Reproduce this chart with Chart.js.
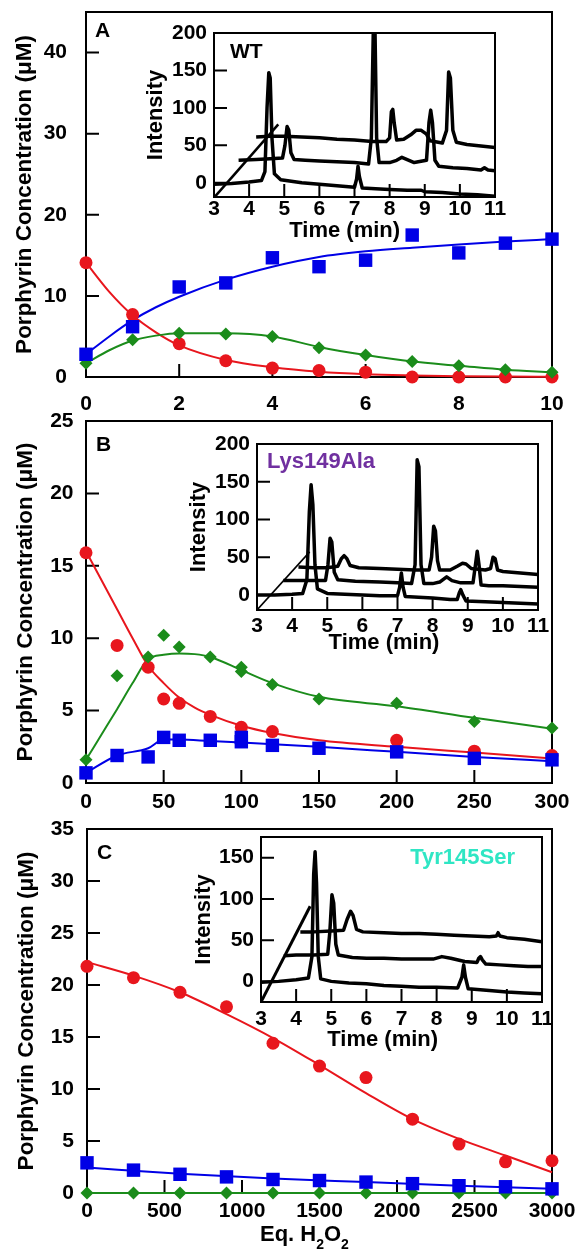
<!DOCTYPE html>
<html><head><meta charset="utf-8">
<script src="https://cdn.jsdelivr.net/npm/chart.js@4"></script>
<style>
html,body{margin:0;padding:0;background:#fff;}
body{width:579px;height:1254px;position:relative;overflow:hidden;}
canvas{position:absolute;}
</style></head><body>
<script>
// ================= DATA =================
// Panel A (WT) : x = Eq. H2O2
const aEq      = [0,1,2,3,4,5,6,7,8,9,10];
const aBlue    = [2.8,6.2,11.1,11.6,14.7,13.6,14.4,17.5,15.3,16.5,17.0];
const aRed     = [14.1,7.7,4.1,2.0,1.1,0.8,0.6,0,0,0,0];
const aGreen   = [1.7,4.6,5.4,5.3,5.0,3.6,2.7,1.9,1.4,0.9,0.6];
const aFitEq   = [0,0.5,1,1.5,2,3,4,5,6,7,8,9,10];
const aBlueFit = [2.8,5.0,7.0,8.6,9.9,12.0,13.6,14.8,15.5,15.95,16.35,16.7,17.0];
const aRedFit  = [14.1,10.5,7.6,5.5,3.9,2.1,1.2,0.65,0.35,0.2,0.1,0.05,0.03];
const aGreenFit= [1.7,3.3,4.5,5.1,5.4,5.4,5.0,3.7,2.7,1.9,1.4,0.9,0.6];
const aXTicks  = [0,2,4,6,8,10];
const aYTicks  = [0,10,20,30,40];

// Panel B (Lys149Ala)
const bRedEq   = [0,20,40,50,60,80,100,120,200,250,300];
const bRed     = [15.9,9.5,8.0,5.8,5.5,4.6,3.85,3.55,2.95,2.2,1.9];
const bGrnEq   = [0,20,40,50,60,80,100,100,120,150,200,250,300];
const bGreen   = [1.6,7.4,8.7,10.2,9.4,8.7,8.0,7.7,6.8,5.8,5.5,4.25,3.8];
const bBluEq   = [0,20,40,50,60,80,100,100,120,150,200,250,300];
const bBlue    = [0.7,1.9,1.8,3.15,2.95,2.95,3.15,2.85,2.6,2.4,2.15,1.7,1.6];
const bFitEq   = [0,10,20,30,40,50,60,70,80,100,120,150,200,250,300];
const bRedFit  = [16.0,14.0,12.0,10.0,8.1,6.9,5.9,5.2,4.7,3.95,3.45,2.95,2.5,2.1,1.7];
const bGreenFit= [1.6,3.35,5.1,6.9,8.55,8.85,8.95,8.9,8.7,7.8,6.9,5.95,5.3,4.5,3.75];
const bBlueFitEq = [0,20,40,50,60,80,100,150,200,250,300];
const bBlueFit = [0.7,1.9,2.4,3.0,3.0,2.9,2.8,2.5,2.15,1.8,1.5];
const bXTicks  = [0,50,100,150,200,250,300];
const bYTicks  = [0,5,10,15,20,25];

// Panel C (Tyr145Ser)
const cEq      = [0,300,600,900,1200,1500,1800,2100,2400,2700,3000];
const cRed     = [21.8,20.7,19.3,17.9,14.4,12.2,11.1,7.1,4.7,3.0,3.1];
const cBlue    = [2.9,2.2,1.8,1.55,1.3,1.2,1.05,0.9,0.7,0.6,0.4];
const cGreen   = [0,0,0,0,0,0,0,0,0,0,0];
const cRedFit  = [22.2,20.9,19.3,17.2,14.9,12.3,9.6,7.1,5.2,3.6,2.0];
const cBlueFitEq = [0,600,1200,1800,2400,3000];
const cBlueFit = [2.45,1.85,1.4,1.05,0.7,0.42];
const cGreenFitEq = [0,3000];
const cGreenFit = [0,0];
const cXTicks  = [0,500,1000,1500,2000,2500,3000];
const cYTicks  = [0,5,10,15,20,25,30,35];

// Insets: HPLC traces, [time (min), intensity]
const insetTimeTicks = [3,4,5,6,7,8,9,10,11];
const insetABIntTicks = [0,50,100,150,200];
const insetCIntTicks = [0,50,100,150];

const wtTrace1 = [[3.0,-2],[3.5,-1],[4.0,1],[4.35,3],[4.45,15],[4.51,100],[4.56,147],[4.60,140],[4.65,60],[4.72,12],[4.9,4],[5.5,0],[6.0,-2],[6.5,-4],[7.0,-6],[7.06,5],[7.10,22],[7.14,8],[7.22,-7],[7.6,-8],[8.0,-9],[8.5,-10],[8.9,-10],[9.0,-12],[9.5,-13],[10.0,-15],[10.5,-16],[11.0,-18]];
const wtTrace2 = [[3.7,30],[4.2,31],[4.6,32],[4.95,33],[5.02,50],[5.08,75],[5.13,70],[5.19,40],[5.28,31],[5.6,30],[6.0,29],[6.5,28],[7.0,27],[7.4,25],[7.48,60],[7.54,215],[7.58,215],[7.63,60],[7.7,27],[8.0,27],[8.2,30],[8.35,34],[8.5,31],[8.7,27],[9.05,30],[9.12,80],[9.17,97],[9.22,80],[9.29,30],[9.4,22],[9.8,20],[10.2,19],[10.6,17],[10.7,20],[10.8,17],[11.0,16]];
const wtTrace3 = [[4.2,61],[4.6,62],[5.0,62],[5.5,61],[6.0,60],[6.5,58],[7.0,57],[7.5,55],[7.9,55],[8.0,60],[8.05,95],[8.09,98],[8.13,80],[8.2,57],[8.4,58],[8.6,64],[8.75,70],[8.9,70],[9.05,65],[9.15,56],[9.5,53],[9.62,70],[9.68,148],[9.73,140],[9.8,70],[9.9,54],[10.2,51],[10.6,49],[11.0,47]];
const wtDiag   = [[3.0,-20],[4.83,78]];

const lysTrace1 = [[3.0,0],[3.5,0],[4.0,1],[4.3,2],[4.42,20],[4.49,110],[4.54,146],[4.59,120],[4.65,40],[4.72,8],[5.0,2],[5.5,1],[6.0,0],[6.5,-1],[7.0,-1],[7.06,10],[7.11,29],[7.16,10],[7.22,-2],[7.6,-3],[8.0,-4],[8.5,-6],[8.7,-6],[8.76,3],[8.8,7],[8.86,0],[8.95,-8],[9.5,-9],[10.0,-10],[10.5,-11],[11.0,-12]];
const lysTrace2 = [[3.75,19],[4.2,19],[4.6,19],[4.95,19],[5.02,40],[5.08,75],[5.13,70],[5.2,30],[5.3,20],[5.8,18],[6.5,17],[7.0,16],[7.4,15],[7.5,40],[7.56,179],[7.61,170],[7.67,40],[7.75,15],[8.0,15],[8.2,17],[8.4,24],[8.55,19],[8.8,16],[9.15,16],[9.22,40],[9.27,58],[9.32,40],[9.38,13],[9.6,12],[10.0,12],[10.5,11],[11.0,10]];
const lysTrace3 = [[4.18,37],[4.6,36],[5.0,36],[5.3,38],[5.4,48],[5.48,52],[5.56,48],[5.65,39],[5.9,36],[6.5,35],[7.0,34],[7.5,33],[7.9,33],[7.97,50],[8.03,91],[8.08,85],[8.14,45],[8.2,33],[8.5,33],[8.7,38],[8.85,42],[8.95,41],[9.1,35],[9.5,33],[9.65,35],[9.72,50],[9.78,48],[9.85,33],[10.0,31],[10.5,29],[11.0,27]];
const lysDiag   = [[3.0,-20],[4.5,57]];

const tyrTrace1 = [[3.0,-1],[3.5,0],[4.0,2],[4.35,4],[4.45,30],[4.5,130],[4.54,157],[4.58,120],[4.63,30],[4.7,3],[5.0,0],[5.5,-2],[6.0,-3],[6.5,-5],[7.0,-6],[7.5,-7],[8.0,-7],[8.6,-8],[8.72,5],[8.77,20],[8.82,5],[8.9,-9],[9.5,-11],[10.0,-13],[10.5,-14],[11.0,-15]];
const tyrTrace2 = [[3.65,31],[4.0,32],[4.5,32],[4.9,33],[4.96,60],[5.02,105],[5.07,95],[5.13,45],[5.2,32],[5.6,29],[6.0,28],[6.5,28],[7.0,27],[7.5,27],[7.9,27],[8.15,30],[8.4,28],[8.8,24],[9.15,23],[9.2,28],[9.25,30],[9.3,26],[9.4,21],[9.8,20],[10.2,19],[10.6,18],[11.0,18]];
const tyrTrace3 = [[4.12,60],[4.5,60],[5.0,61],[5.35,62],[5.45,75],[5.55,85],[5.62,80],[5.72,63],[5.9,60],[6.5,59],[7.0,58],[7.5,58],[8.0,57],[8.5,56],[9.0,55],[9.5,54],[9.7,55],[9.75,59],[9.8,55],[10.0,53],[10.5,51],[11.0,48]];
const tyrDiag   = [[3.0,-25],[4.4,91]];

// ================= STYLE / HELPERS =================
const FONT = '"Liberation Sans", Arial, Helvetica, sans-serif';
const BLUE = '#0000e6', RED = '#e8161d', GREEN = '#1b8c1b';

function makeCanvas(l, t, w, h) {
  const c = document.createElement('canvas');
  c.width = w; c.height = h;
  c.style.left = l + 'px'; c.style.top = t + 'px';
  c.style.width = w + 'px'; c.style.height = h + 'px';
  document.body.appendChild(c);
  return c;
}
const pts = (xs, ys) => xs.map((x, i) => ({x: x, y: ys[i]}));
const pairs = arr => arr.map(p => ({x: p[0], y: p[1]}));

function framePlugin(lineWidth, tick) {
  return {
    id: 'frame',
    beforeDatasetsDraw(chart) {
      const ctx = chart.ctx, a = chart.chartArea;
      const sx = chart.scales.x, sy = chart.scales.y;
      ctx.save();
      ctx.strokeStyle = '#000';
      ctx.lineWidth = lineWidth;
      ctx.beginPath();
      for (const t of sx.ticks) {
        const p = sx.getPixelForValue(t.value);
        if (p > a.left + 2 && p < a.right - 2) { ctx.moveTo(p, a.bottom); ctx.lineTo(p, a.bottom - tick); }
      }
      for (const t of sy.ticks) {
        const p = sy.getPixelForValue(t.value);
        if (p > a.top + 2 && p < a.bottom - 2) { ctx.moveTo(a.left, p); ctx.lineTo(a.left + tick, p); }
      }
      ctx.stroke();
      ctx.strokeRect(a.left, a.top, a.right - a.left, a.bottom - a.top);
      ctx.restore();
    }
  };
}
function textPlugin(items) {
  return {
    id: 'texts',
    afterDraw(chart) {
      const ctx = chart.ctx, a = chart.chartArea;
      for (const it of items) {
        ctx.save();
        ctx.fillStyle = it.color || '#000';
        ctx.textAlign = it.align || 'left';
        ctx.textBaseline = it.baseline || 'middle';
        const x = (it.fromRight ? a.right : a.left) + it.dx;
        const y = (it.fromBottom ? a.bottom : a.top) + it.dy;
        if (it.parts) {
          let cx = x;
          for (const p of it.parts) {
            ctx.font = 'bold ' + p.size + 'px ' + FONT;
            ctx.fillText(p.text, cx, y + (p.shift || 0));
            cx += ctx.measureText(p.text).width;
          }
        } else {
          ctx.font = 'bold ' + it.size + 'px ' + FONT;
          ctx.fillText(it.text, x, y);
        }
        ctx.restore();
      }
    }
  };
}
function zeroPad(s) { s.paddingTop = 0; s.paddingBottom = 0; s.paddingLeft = 0; s.paddingRight = 0; }

function axis(o) {
  const sc = {
    type: 'linear', min: o.min, max: o.max,
    grid: {display: false, drawTicks: false},
    border: {display: false},
    afterBuildTicks: s => { s.ticks = o.ticks.map(v => ({value: v})); },
    afterFit: s => { if (o.width !== undefined) s.width = o.width; if (o.height !== undefined) s.height = o.height; zeroPad(s); },
    ticks: {
      autoSkip: false, maxRotation: 0, minRotation: 0, padding: o.pad,
      color: '#000', font: {family: FONT, size: 21, weight: 'bold'},
      callback: v => String(v)
    }
  };
  if (o.title) {
    sc.title = {display: true, text: o.title, color: '#000',
      font: {family: FONT, size: o.titleSize, weight: 'bold'},
      padding: {top: o.titlePad, bottom: 0}};
  }
  return sc;
}

function ptsSet(data, style, color, r) {
  return {data: data, showLine: false, pointStyle: style, pointRadius: r, pointHoverRadius: r,
    backgroundColor: color, borderColor: color, pointBorderWidth: 0, borderWidth: 0, clip: false};
}
function lineSet(data, color, w, smooth, clip) {
  return {data: data, showLine: true, pointRadius: 0, borderColor: color, backgroundColor: color,
    borderWidth: w, fill: false, cubicInterpolationMode: smooth ? 'monotone' : 'default', tension: 0,
    borderJoinStyle: 'round', clip: clip};
}

function mainChart(cfg) {
  const c = makeCanvas(0, cfg.top, 579, cfg.height);
  return new Chart(c, {
    type: 'scatter',
    data: {datasets: cfg.datasets},
    options: {
      responsive: false, animation: false, events: [],
      layout: {padding: {left: 0, top: cfg.padTop, right: 27, bottom: 0}},
      plugins: {legend: {display: false}, tooltip: {enabled: false}},
      scales: {
        x: axis({min: cfg.xMin, max: cfg.xMax, ticks: cfg.xTicks, height: cfg.xHeight, pad: cfg.xPad}),
        y: axis({min: cfg.yMin, max: cfg.yMax, ticks: cfg.yTicks, width: cfg.yWidth, pad: cfg.yPad,
          title: 'Porphyrin Concentration (\u03bcM)', titleSize: 22.5, titlePad: cfg.titlePad})
      }
    },
    plugins: [framePlugin(2, 13), textPlugin(cfg.texts)]
  });
}

function insetChart(cfg) {
  const c = makeCanvas(cfg.left, cfg.top, 383, cfg.height);
  const ds = cfg.traces.map(t => lineSet(pairs(t), '#000', 3.5, false, 0));
  ds.push(lineSet(pairs(cfg.diag), '#000', cfg.diagW, false, 0));
  return new Chart(c, {
    type: 'scatter',
    data: {datasets: ds},
    options: {
      responsive: false, animation: false, events: [],
      layout: {padding: {left: 0, top: 25, right: 22, bottom: 0}},
      plugins: {legend: {display: false}, tooltip: {enabled: false}},
      scales: {
        x: axis({min: 3, max: 11, ticks: insetTimeTicks, height: 60, pad: cfg.xPad}),
        y: axis({min: cfg.yMin, max: cfg.yMax, ticks: cfg.yTicks, width: 80, pad: 7,
          title: 'Intensity', titleSize: 22, titlePad: cfg.titlePad})
      }
    },
    plugins: [framePlugin(2, 13), textPlugin(cfg.texts)]
  });
}

// ================= MAIN PANELS =================
mainChart({
  top: 0, height: 430, padTop: 12, xHeight: 53, yWidth: 86, xPad: 15, yPad: 19, titlePad: 11.5,
  xMin: 0, xMax: 10, yMin: 0, yMax: 45, xTicks: aXTicks, yTicks: aYTicks,
  datasets: [
    ptsSet(pts(aEq, aBlue), 'rect', BLUE, 9.5),
    ptsSet(pts(aEq, aGreen), 'rectRot', GREEN, 6.5),
    ptsSet(pts(aEq, aRed), 'circle', RED, 6.5),
    lineSet(pts(aFitEq, aBlueFit), BLUE, 2, true, false),
    lineSet(pts(aFitEq, aGreenFit), GREEN, 2, true, false),
    lineSet(pts(aFitEq, aRedFit), RED, 2, true, false)
  ],
  texts: [{text: 'A', size: 21, dx: 9, dy: 19}]
});

mainChart({
  top: 400, height: 430, padTop: 21, xHeight: 47, yWidth: 86, xPad: 7, yPad: 12.5, titlePad: 12,
  xMin: 0, xMax: 300, yMin: 0, yMax: 25, xTicks: bXTicks, yTicks: bYTicks,
  datasets: [
    ptsSet(pts(bBluEq, bBlue), 'rect', BLUE, 9.5),
    ptsSet(pts(bGrnEq, bGreen), 'rectRot', GREEN, 6.5),
    ptsSet(pts(bRedEq, bRed), 'circle', RED, 6.5),
    lineSet(pts(bBlueFitEq, bBlueFit), BLUE, 2, true, false),
    lineSet(pts(bFitEq, bGreenFit), GREEN, 2, true, false),
    lineSet(pts(bFitEq, bRedFit), RED, 2, true, false)
  ],
  texts: [{text: 'B', size: 21, dx: 10, dy: 24}]
});

mainChart({
  top: 805, height: 449, padTop: 24, xHeight: 61, yWidth: 87, xPad: 5.5, yPad: 13, titlePad: 13.5,
  xMin: 0, xMax: 3000, yMin: 0, yMax: 35, xTicks: cXTicks, yTicks: cYTicks,
  datasets: [
    ptsSet(pts(cEq, cBlue), 'rect', BLUE, 9.5),
    ptsSet(pts(cEq, cGreen), 'rectRot', GREEN, 6.5),
    ptsSet(pts(cEq, cRed), 'circle', RED, 6.5),
    lineSet(pts(cBlueFitEq, cBlueFit), BLUE, 2, true, false),
    lineSet(pts(cGreenFitEq, cGreenFit), GREEN, 2, false, false),
    lineSet(pts(cEq, cRedFit), RED, 2, true, false)
  ],
  texts: [
    {text: 'C', size: 21, dx: 10, dy: 24},
    {fromBottom: true, dx: 173, dy: 48, baseline: 'alphabetic',
     parts: [{text: 'Eq. H', size: 22}, {text: '2', size: 14, shift: 8}, {text: 'O', size: 22}, {text: '2', size: 14, shift: 8}]}
  ]
});

// ================= INSETS =================
insetChart({
  left: 134, top: 8, height: 249, yMin: -19, yMax: 200, yTicks: insetABIntTicks, xPad: 0, titlePad: 8.3,
  traces: [wtTrace1, wtTrace2, wtTrace3], diag: wtDiag, diagW: 2.5,
  texts: [
    {text: 'WT', size: 21, dx: 16, dy: 19},
    {text: 'Time (min)', size: 22, align: 'center', fromBottom: true, dx: 130.7, dy: 34}
  ]
});
insetChart({
  left: 177, top: 419, height: 251, yMin: -20, yMax: 200, yTicks: insetABIntTicks, xPad: 3.4, titlePad: 8.3,
  traces: [lysTrace1, lysTrace2, lysTrace3], diag: lysDiag, diagW: 1.6,
  texts: [
    {text: 'Lys149Ala', size: 22, color: '#7030a0', dx: 10, dy: 18},
    {text: 'Time (min)', size: 22, align: 'center', fromBottom: true, dx: 127, dy: 33}
  ]
});
insetChart({
  left: 181, top: 812, height: 250, yMin: -25, yMax: 175, yTicks: insetCIntTicks, xPad: 4.5, titlePad: 9.8,
  traces: [tyrTrace1, tyrTrace2, tyrTrace3], diag: tyrDiag, diagW: 3,
  texts: [
    {text: 'Tyr145Ser', size: 22, color: '#2fe6c4', align: 'right', fromRight: true, dx: -27, dy: 21},
    {text: 'Time (min)', size: 22, align: 'center', fromBottom: true, dx: 121.7, dy: 38}
  ]
});
</script>
</body></html>
